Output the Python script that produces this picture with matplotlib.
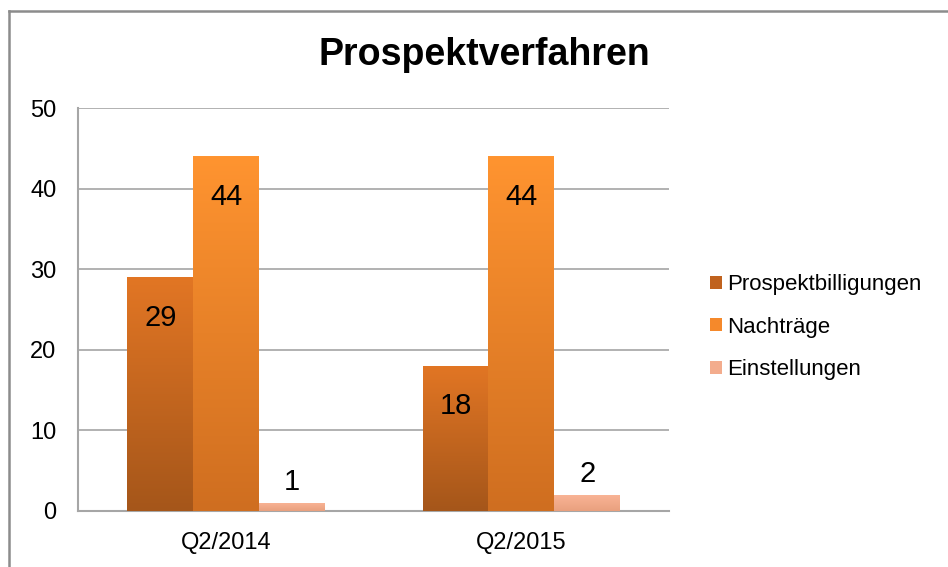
import numpy as np
import matplotlib.pyplot as plt
from matplotlib.patches import Patch
from matplotlib.colors import LinearSegmentedColormap
from matplotlib.lines import Line2D

plt.rcParams['font.family'] = ['Liberation Sans', 'DejaVu Sans']

# Data
categories = ["Q2/2014", "Q2/2015"]
series_names = ["Prospektbilligungen", "Nachträge", "Einstellungen"]
prospektbilligungen = [29, 18]
nachtraege = [44, 44]
einstellungen = [1, 2]
series_values = [prospektbilligungen, nachtraege, einstellungen]

# gradient colours (top, bottom) per series
grad_colors = [("#e27624", "#a5561a"), ("#ff9430", "#cf6e20"), ("#fab597", "#e9a07e")]
legend_colors = ["#c0621e", "#f5892b", "#f3ac8d"]

fig = plt.figure(figsize=(9.48, 5.67), dpi=100)
ax = fig.add_axes([0.0828, 0.0988, 0.6229, 0.7107])

x = np.arange(len(categories))
width = 0.223
offsets = [-width, 0, width]

gradient = np.linspace(1, 0, 256).reshape(-1, 1)
for vals, off, (top, bot) in zip(series_values, offsets, grad_colors):
    bars = ax.bar(x + off, vals, width, color="none", edgecolor="none", zorder=3)
    cmap = LinearSegmentedColormap.from_list("g", [bot, top])
    for b, v in zip(bars, vals):
        x0 = b.get_x()
        im = ax.imshow(gradient, cmap=cmap, aspect="auto", origin="upper",
                       extent=[x0, x0 + b.get_width(), 0, v], zorder=3)
        im.set_clip_path(b)
        cx = b.get_x() + b.get_width() / 2
        if v >= 10:
            ax.annotate(str(v), (cx, v), xytext=(0, -29), textcoords="offset points",
                        ha="center", va="center", fontsize=21, color="black", zorder=5)
        else:
            ax.annotate(str(v), (cx, v), xytext=(0, 5), textcoords="offset points",
                        ha="center", va="bottom", fontsize=21, color="black", zorder=5)

ax.set_xlim(-0.5, 1.5)
ax.set_ylim(0, 50)
ax.set_yticks([0, 10, 20, 30, 40, 50])
ax.set_xticks(x)
ax.set_xticklabels(categories)
ax.tick_params(axis="both", length=0, labelsize=17, colors="black")
ax.tick_params(axis="y", pad=16)
ax.tick_params(axis="x", pad=15)
ax.yaxis.grid(True, color="#ababab", linewidth=1.3, zorder=0)
ax.set_axisbelow(True)
for s in ["top", "right"]:
    ax.spines[s].set_visible(False)
for s in ["left", "bottom"]:
    ax.spines[s].set_color("#a6a6a6")
    ax.spines[s].set_linewidth(1.5)

fig.text(0.511, 0.903, "Prospektverfahren", ha="center", va="center",
         fontsize=27, fontweight="bold")

handles = [Patch(facecolor=c, edgecolor="none") for c in legend_colors]
fig.legend(handles, series_names, loc="center left", bbox_to_anchor=(0.749, 0.423),
           frameon=False, fontsize=16, handlelength=0.55, handleheight=0.55,
           handletextpad=0.2, labelspacing=0.97, borderpad=0, borderaxespad=0)

# outer chart border (top and left visible)
fig.add_artist(Line2D([9 / 948, 1.0], [1 - 11 / 567, 1 - 11 / 567],
                      transform=fig.transFigure, color="#8c8c8c", linewidth=1.8))
fig.add_artist(Line2D([9 / 948, 9 / 948], [1 - 11 / 567, 0.0],
                      transform=fig.transFigure, color="#8c8c8c", linewidth=1.8))

fig.savefig("out.png", dpi=100)
